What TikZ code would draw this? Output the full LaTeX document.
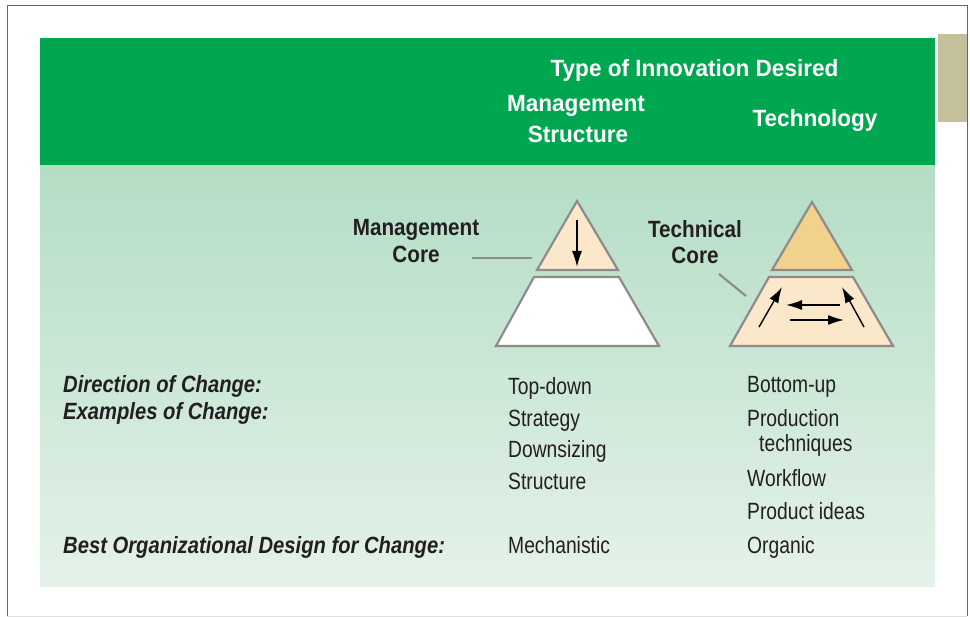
\documentclass[tikz,border=0pt]{standalone}
\usepackage{fontspec}
\setmainfont{Liberation Sans}
\newfontfamily\hfont[FakeStretch=0.96]{Liberation Sans Bold}
\newfontfamily\lfont[FakeStretch=0.88]{Liberation Sans Bold}
\newfontfamily\ifont[FakeStretch=0.86]{Liberation Sans Bold Italic}
\newfontfamily\rfont[FakeStretch=0.82]{Liberation Sans}
\usetikzlibrary{arrows.meta}
\definecolor{hdgreen}{HTML}{00A650}
\definecolor{bgtop}{HTML}{B4DDC4}
\definecolor{bgbot}{HTML}{E4F2E9}
\definecolor{tanbox}{HTML}{C4C09C}
\definecolor{txt}{HTML}{231F20}
\definecolor{edge}{HTML}{8C8C8C}
\definecolor{paleorange}{HTML}{FBE7C9}
\definecolor{deeporange}{HTML}{F2D18C}
\tikzset{
  headtext/.style={text=white, font=\hfont\fontsize{23.5}{28}\selectfont, inner sep=0pt},
  corelabel/.style={text=txt, font=\lfont\fontsize{23.5}{28}\selectfont, inner sep=0pt, anchor=base},
  rowlabel/.style={text=txt, font=\ifont\fontsize{23.5}{28}\selectfont, inner sep=0pt, anchor=base west},
  celltext/.style={text=txt, font=\rfont\fontsize{23.5}{28}\selectfont, inner sep=0pt, anchor=base west},
  pyr/.style={draw=edge, line width=2.2pt, line join=miter},
  leader/.style={draw=edge, line width=2.2pt},
  flow/.style={draw=black, line width=1.4pt, -{Latex[length=16pt,width=10pt]}}
}
\begin{document}
\begin{tikzpicture}[x=1pt,y=-1pt]
\useasboundingbox (0,0) rectangle (970,617);
% frame
\draw[draw=gray!80!black, line width=1pt] (7,616) -- (7,6) -- (967,6) -- (967,616);
\draw[draw=gray!25, line width=1pt] (7,616) -- (967,616);
% tan tab
\fill[tanbox] (938,34) rectangle (966.5,122);
% body
\shade[top color=bgtop, bottom color=bgbot] (40,165) rectangle (935,586);
% header
\fill[hdgreen] (40,38) rectangle (935,165);
\node[headtext, anchor=base] (type) at (694.5,77) {Type of Innovation Desired};
\node[headtext, anchor=base] (mgmt) at (576,112) {Management};
\node[headtext, anchor=base] (struct) at (578,143) {Structure};
\node[headtext, anchor=base] (tech) at (815,127) {Technology};
% left pyramid
\coordinate (LA) at (577,201);
\coordinate (LB1) at (537,270);
\coordinate (LB2) at (618,270);
\coordinate (LT1) at (534,277);
\coordinate (LT2) at (619,277);
\coordinate (LS1) at (496,346);
\coordinate (LS2) at (659,346);
\path[pyr, fill=paleorange] (LA) -- (LB2) -- (LB1) -- cycle;
\path[pyr, fill=white] (LT1) -- (LT2) -- (LS2) -- (LS1) -- cycle;
\coordinate (La1) at (577,220);
\coordinate (La2) at (577,267);
\draw[flow] (La1) -- (La2);
% right pyramid
\coordinate (RA) at (812,202);
\coordinate (RB1) at (772,270);
\coordinate (RB2) at (852,270);
\coordinate (RT1) at (769,277);
\coordinate (RT2) at (853,277);
\coordinate (RS1) at (730,346);
\coordinate (RS2) at (893,346);
\path[pyr, fill=deeporange] (RA) -- (RB2) -- (RB1) -- cycle;
\path[pyr, fill=paleorange] (RT1) -- (RT2) -- (RS2) -- (RS1) -- cycle;
\coordinate (Ra1) at (759,327);
\coordinate (Ra2) at (782,287);
\coordinate (Rb1) at (864,327);
\coordinate (Rb2) at (842,287);
\coordinate (Rc1) at (840,305);
\coordinate (Rc2) at (786,305);
\coordinate (Rd1) at (790,320);
\coordinate (Rd2) at (844,320);
\draw[flow] (Ra1) -- (Ra2);
\draw[flow] (Rb1) -- (Rb2);
\draw[flow] (Rc1) -- (Rc2);
\draw[flow] (Rd1) -- (Rd2);
% core labels
\node[corelabel] (mc1) at (416,236) {Management};
\node[corelabel] (mc2) at (416,263) {Core};
\node[corelabel] (tc1) at (695,238) {Technical};
\node[corelabel] (tc2) at (695,264) {Core};
\coordinate (Lm1) at (472,258);
\coordinate (Lm2) at (532,258);
\coordinate (Lt1) at (719,274);
\coordinate (Lt2) at (746,296);
\draw[leader] (Lm1) -- (Lm2);
\draw[leader] (Lt1) -- (Lt2);
% row labels
\node[rowlabel] (dir) at (63,393) {Direction of Change:};
\node[rowlabel] (ex) at (63,420) {Examples of Change:};
\node[rowlabel] (best) at (63,554) {Best Organizational Design for Change:};
% middle column
\node[celltext] (m1) at (508,395) {Top-down};
\node[celltext] (m2) at (508,427) {Strategy};
\node[celltext] (m3) at (508,458) {Downsizing};
\node[celltext] (m4) at (508,490) {Structure};
\node[celltext] (m5) at (508,554) {Mechanistic};
% right column
\node[celltext] (r1) at (747,393) {Bottom-up};
\node[celltext] (r2) at (747,427) {Production};
\node[celltext] (r3) at (759,452) {techniques};
\node[celltext] (r4) at (747,487) {Workflow};
\node[celltext] (r5) at (747,520) {Product ideas};
\node[celltext] (r6) at (747,554) {Organic};
\end{tikzpicture}
\end{document}
